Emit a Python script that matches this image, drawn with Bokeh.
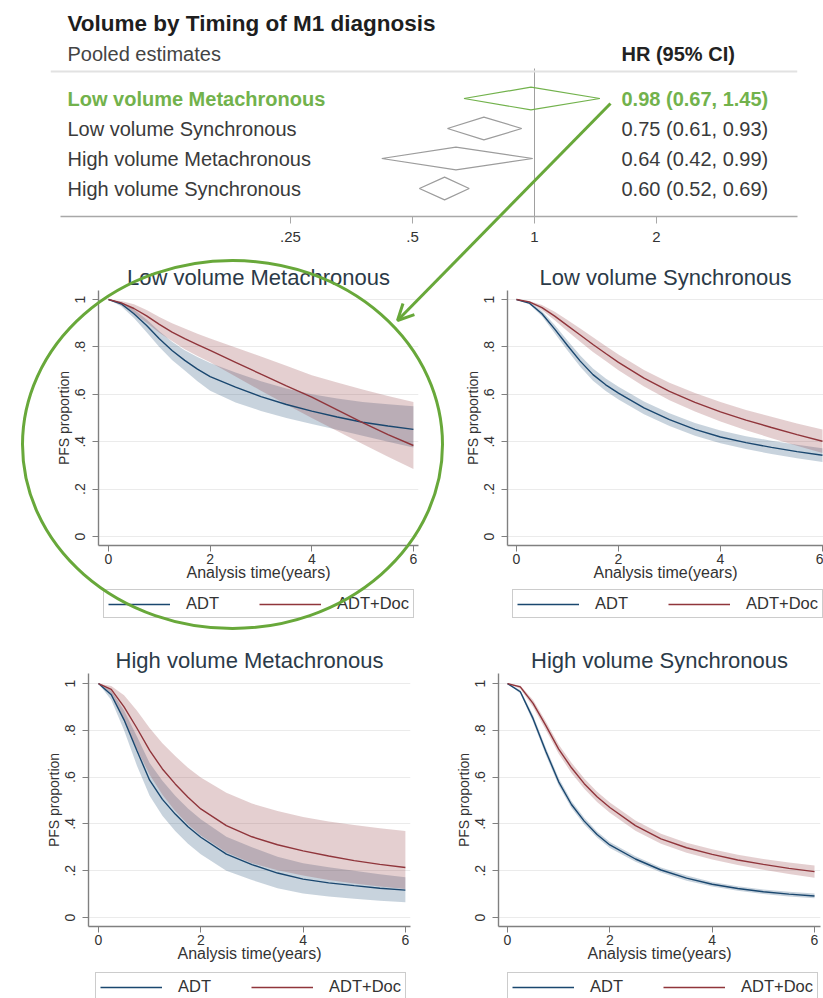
from bokeh.plotting import figure
from bokeh.models import (Range1d, FixedTicker, Legend, LegendItem, Arrow, OpenHead,
                          GridBox, Span, CustomJSTickFormatter)
from bokeh.core.properties import value
from bokeh.embed import file_html
from bokeh.resources import INLINE

# ------------------------------------------------------------------ data
# Forest plot (pooled hazard ratios)
GROUPS = ["Low volume Metachronous", "Low volume Synchronous",
          "High volume Metachronous", "High volume Synchronous"]
HR = [0.98, 0.75, 0.64, 0.60]
HR_LO = [0.67, 0.61, 0.42, 0.52]
HR_HI = [1.45, 0.93, 0.99, 0.69]
HIGHLIGHT = 0
HR_TICKS = [0.25, 0.5, 1, 2]
HR_TICK_LABELS = [".25", ".5", "1", "2"]

# PFS curves with 95% bands
T = [0, 0.25, 0.5, 0.75, 1, 1.25, 1.5, 1.75, 2, 2.5, 3, 3.5, 4, 4.5, 5, 5.5, 6]

LVM_ADT    = [1.000, 0.982, 0.940, 0.890, 0.834, 0.785, 0.743, 0.706, 0.675, 0.630, 0.590, 0.557, 0.529, 0.504, 0.482, 0.466, 0.452]
LVM_ADT_LO = [1.000, 0.972, 0.922, 0.862, 0.800, 0.745, 0.700, 0.655, 0.615, 0.565, 0.530, 0.500, 0.475, 0.450, 0.425, 0.400, 0.375]
LVM_ADT_HI = [1.000, 0.990, 0.958, 0.916, 0.866, 0.822, 0.786, 0.757, 0.732, 0.692, 0.655, 0.625, 0.600, 0.582, 0.568, 0.558, 0.550]
LVM_DOC    = [1.000, 0.986, 0.962, 0.931, 0.895, 0.862, 0.835, 0.810, 0.785, 0.735, 0.685, 0.636, 0.588, 0.534, 0.480, 0.430, 0.384]
LVM_DOC_LO = [1.000, 0.976, 0.942, 0.902, 0.860, 0.825, 0.790, 0.762, 0.735, 0.675, 0.615, 0.557, 0.500, 0.445, 0.390, 0.337, 0.285]
LVM_DOC_HI = [1.000, 0.994, 0.980, 0.956, 0.926, 0.900, 0.878, 0.856, 0.835, 0.797, 0.760, 0.720, 0.680, 0.650, 0.620, 0.593, 0.567]

LVS_ADT    = [1.000, 0.985, 0.940, 0.875, 0.806, 0.740, 0.683, 0.640, 0.605, 0.543, 0.493, 0.452, 0.420, 0.396, 0.376, 0.358, 0.343]
LVS_ADT_LO = [1.000, 0.980, 0.929, 0.858, 0.785, 0.716, 0.657, 0.614, 0.578, 0.516, 0.466, 0.425, 0.393, 0.369, 0.348, 0.330, 0.314]
LVS_ADT_HI = [1.000, 0.990, 0.951, 0.892, 0.827, 0.764, 0.709, 0.667, 0.632, 0.570, 0.520, 0.479, 0.447, 0.423, 0.404, 0.387, 0.372]
LVS_DOC    = [1.000, 0.990, 0.966, 0.930, 0.890, 0.850, 0.810, 0.772, 0.735, 0.668, 0.612, 0.566, 0.526, 0.491, 0.460, 0.430, 0.402]
LVS_DOC_LO = [1.000, 0.986, 0.955, 0.912, 0.866, 0.822, 0.779, 0.740, 0.702, 0.633, 0.575, 0.527, 0.485, 0.448, 0.415, 0.383, 0.352]
LVS_DOC_HI = [1.000, 0.994, 0.977, 0.948, 0.914, 0.878, 0.841, 0.804, 0.768, 0.703, 0.649, 0.605, 0.567, 0.534, 0.505, 0.477, 0.452]

HVM_ADT    = [1.000, 0.952, 0.845, 0.714, 0.587, 0.505, 0.442, 0.388, 0.343, 0.271, 0.226, 0.190, 0.164, 0.148, 0.136, 0.125, 0.117]
HVM_ADT_LO = [1.000, 0.930, 0.800, 0.650, 0.520, 0.435, 0.370, 0.315, 0.270, 0.200, 0.160, 0.125, 0.103, 0.090, 0.080, 0.072, 0.065]
HVM_ADT_HI = [1.000, 0.970, 0.885, 0.775, 0.660, 0.585, 0.520, 0.466, 0.420, 0.345, 0.300, 0.260, 0.232, 0.215, 0.200, 0.185, 0.172]
HVM_DOC    = [1.000, 0.975, 0.900, 0.810, 0.714, 0.635, 0.571, 0.514, 0.464, 0.393, 0.345, 0.311, 0.285, 0.263, 0.243, 0.227, 0.214]
HVM_DOC_LO = [1.000, 0.955, 0.840, 0.720, 0.610, 0.525, 0.455, 0.398, 0.350, 0.278, 0.232, 0.202, 0.180, 0.160, 0.145, 0.133, 0.122]
HVM_DOC_HI = [1.000, 0.990, 0.950, 0.885, 0.810, 0.745, 0.690, 0.640, 0.598, 0.533, 0.487, 0.455, 0.430, 0.410, 0.395, 0.382, 0.370]

HVS_ADT    = [1.000, 0.965, 0.850, 0.710, 0.580, 0.483, 0.412, 0.355, 0.310, 0.250, 0.203, 0.168, 0.142, 0.124, 0.110, 0.100, 0.092]
HVS_ADT_LO = [1.000, 0.958, 0.836, 0.694, 0.564, 0.468, 0.398, 0.342, 0.297, 0.238, 0.192, 0.157, 0.132, 0.114, 0.100, 0.090, 0.082]
HVS_ADT_HI = [1.000, 0.972, 0.864, 0.726, 0.596, 0.498, 0.426, 0.368, 0.323, 0.262, 0.214, 0.179, 0.152, 0.134, 0.120, 0.110, 0.103]
HVS_DOC    = [1.000, 0.986, 0.915, 0.820, 0.720, 0.640, 0.572, 0.516, 0.470, 0.393, 0.336, 0.298, 0.270, 0.246, 0.227, 0.210, 0.196]
HVS_DOC_LO = [1.000, 0.978, 0.900, 0.802, 0.700, 0.618, 0.550, 0.494, 0.448, 0.371, 0.315, 0.277, 0.248, 0.224, 0.204, 0.186, 0.170]
HVS_DOC_HI = [1.000, 0.992, 0.930, 0.838, 0.740, 0.662, 0.594, 0.538, 0.492, 0.415, 0.358, 0.320, 0.292, 0.268, 0.250, 0.235, 0.222]

X_TICKS = [0, 2, 4, 6]
Y_TICKS = [0, 0.2, 0.4, 0.6, 0.8, 1]
Y_TICK_LABELS = ["0", ".2", ".4", ".6", ".8", "1"]
SERIES_NAMES = ["ADT", "ADT+Doc"]

# ------------------------------------------------------------------ styles
FONT = "Liberation Sans"
GREEN_TXT = "#72b24c"
GREEN = "#68a83a"
NAVY = "#1a476f"
MAROON = "#90353b"
AXIS_GREY = "#808080"


def label_formatter(tv, tl):
    return CustomJSTickFormatter(
        args=dict(tv=tv, tl=tl),
        code="const i = tv.findIndex(t => Math.abs(t - tick) < 1e-9); return i >= 0 ? tl[i] : '';")


# ------------------------------------------------------------------ forest plot
def hr_at(px):
    # forest layout: HR = 1 sits 534 px from the left, 122 px per doubling
    return 2 ** ((px - 534) / 122)


n = len(GROUPS)
rows = [n - i for i in range(n)]
fp = figure(width=823, height=255, x_axis_type="log",
            x_range=Range1d(hr_at(50), hr_at(797)), y_range=Range1d(0.067, 6.067),
            output_backend="svg", toolbar_location=None, y_axis_location=None,
            min_border_left=50, min_border_right=26, min_border_top=36, min_border_bottom=39,
            frame_align=False)
fp.outline_line_color = None
fp.grid.grid_line_color = None
fp.title.text = "Volume by Timing of M1 diagnosis"
fp.title.text_font = FONT
fp.title.text_font_size = "22.5px"
fp.title.text_font_style = "bold"
fp.title.text_color = "#1e1e1e"
fp.title.align = "left"
fp.title.offset = 17
fp.title.standoff = 2

ax = fp.xaxis[0]
ax.ticker = FixedTicker(ticks=HR_TICKS)
ax.formatter = label_formatter(HR_TICKS, HR_TICK_LABELS)
ax.bounds = (hr_at(60), hr_at(797))
ax.axis_line_color = "#a8a8a8"
ax.axis_line_width = 1.5
ax.major_tick_line_color = "#a8a8a8"
ax.major_tick_out = 7
ax.major_tick_in = 0
ax.minor_tick_line_color = None
ax.major_label_standoff = 8
ax.major_label_text_font = FONT
ax.major_label_text_font_size = "15px"
ax.major_label_text_color = "#333333"

fp.add_layout(Span(location=n + 0.9, dimension="width", line_color="#e2e2e2", line_width=2))
fp.segment(x0=[1], y0=[0.067], x1=[1], y1=[n + 1.0], line_color="#a0a0a0", line_width=1)

d_xs = [[lo, h, hi, h] for lo, h, hi in zip(HR_LO, HR, HR_HI)]
d_ys = [[r, r + 0.38, r, r - 0.38] for r in rows]
d_col = [GREEN_TXT if i == HIGHLIGHT else "#9c9c9c" for i in range(n)]
fp.patches(xs=d_xs, ys=d_ys, fill_color=None, line_color=d_col, line_width=1.2)

hr_txt = [f"{h:.2f} ({lo:.2f}, {hi:.2f})" for h, lo, hi in zip(HR, HR_LO, HR_HI)]
for i in range(n):
    hl = i == HIGHLIGHT
    col = GREEN_TXT if hl else "#3a3a3a"
    sty = "bold" if hl else "normal"
    fp.text(x=[hr_at(67)], y=[rows[i]], text=[GROUPS[i]], text_baseline="middle",
            text_align="left", text_font=value(FONT), text_font_size="20px",
            text_font_style=sty, text_color=col)
    fp.text(x=[hr_at(621)], y=[rows[i]], text=[hr_txt[i]], text_baseline="middle",
            text_align="left", text_font=value(FONT), text_font_size="20px",
            text_font_style=sty, text_color=col)

fp.text(x=[hr_at(67)], y=[n + 1.47], text=["Pooled estimates"], text_baseline="middle",
        text_align="left", text_font=value(FONT), text_font_size="20px", text_color="#444444")
fp.text(x=[hr_at(621)], y=[n + 1.47], text=["HR (95% CI)"], text_baseline="middle",
        text_align="left", text_font=value(FONT), text_font_size="20px",
        text_font_style="bold", text_color="#222222")


# ------------------------------------------------------------------ KM panels
def km_panel(title, adt, adt_lo, adt_hi, doc, doc_lo, doc_hi, g):
    p = figure(width=g["w"], height=g["h"], x_range=Range1d(*g["x"]), y_range=Range1d(*g["y"]),
               output_backend="svg", toolbar_location=None,
               min_border_left=g["l"], min_border_right=g["r"],
               min_border_top=g["t"], min_border_bottom=g["b"], frame_align=False)
    p.outline_line_color = None
    p.title.text = title
    p.title.text_font = FONT
    p.title.text_font_size = "22px"
    p.title.text_font_style = "normal"
    p.title.text_color = "#2b3a48"
    p.title.align = "center"
    p.title.standoff = 2

    p.xgrid.grid_line_color = None
    p.ygrid.grid_line_color = "#ebebeb"

    for a in (p.xaxis[0], p.yaxis[0]):
        a.axis_line_color = AXIS_GREY
        a.axis_line_width = 1.4
        a.major_tick_line_color = AXIS_GREY
        a.major_tick_out = 6
        a.major_tick_in = 0
        a.minor_tick_line_color = None
        a.major_label_text_font = FONT
        a.major_label_text_font_size = "14px"
        a.major_label_text_color = "#333333"
        a.axis_label_text_font = FONT
        a.axis_label_text_font_style = "normal"
        a.axis_label_text_color = "#333333"

    xa = p.xaxis[0]
    xa.ticker = FixedTicker(ticks=X_TICKS)
    xa.major_label_standoff = 2
    xa.axis_label = "Analysis time(years)"
    xa.axis_label_text_font_size = "16px"
    xa.axis_label_standoff = -3

    ya = p.yaxis[0]
    ya.ticker = FixedTicker(ticks=Y_TICKS)
    ya.formatter = label_formatter(Y_TICKS, Y_TICK_LABELS)
    ya.major_label_orientation = "vertical"
    ya.major_label_standoff = 7
    ya.axis_label = "PFS proportion"
    ya.axis_label_text_font_size = "14px"
    ya.axis_label_standoff = 1

    p.varea(x=T, y1=adt_lo, y2=adt_hi, fill_color=NAVY, fill_alpha=0.24)
    p.varea(x=T, y1=doc_lo, y2=doc_hi, fill_color=MAROON, fill_alpha=0.24)
    p.line(T, adt, line_color=NAVY, line_width=1.4)
    p.line(T, doc, line_color=MAROON, line_width=1.4)
    return p


def legend_strip(width, height, loc):
    # key strip under a panel; its two key lines lie outside the strip's visible range
    q = figure(width=width, height=height, x_range=Range1d(0, 1), y_range=Range1d(0, 1),
               output_backend="svg", toolbar_location=None, x_axis_location=None,
               y_axis_location=None, min_border=0, frame_align=False)
    q.grid.grid_line_color = None
    q.outline_line_color = None
    r1 = q.line(x=[-2, -1], y=[-2, -2], line_color=NAVY, line_width=1.4)
    r2 = q.line(x=[-2, -1], y=[-3, -3], line_color=MAROON, line_width=1.4)
    leg = Legend(items=[LegendItem(label=SERIES_NAMES[0], renderers=[r1]),
                        LegendItem(label=SERIES_NAMES[1], renderers=[r2])],
                 orientation="horizontal", location=loc)
    leg.label_text_font = FONT
    leg.label_text_font_size = "16.5px"
    leg.label_text_color = "#333333"
    leg.glyph_width = 62
    leg.glyph_height = 16
    leg.label_height = 16
    leg.label_standoff = 16
    leg.spacing = 40
    leg.padding = 4
    leg.margin = 0
    leg.border_line_color = "#9a9a9a"
    leg.border_line_width = 1.5
    leg.background_fill_color = "white"
    leg.background_fill_alpha = 1
    q.add_layout(leg, "center")
    return q


G1 = dict(w=421, h=333, l=98, r=3, t=35, b=43, x=(-0.197, 6.1), y=(-0.038, 1.038))
G2 = dict(w=402, h=333, l=86, r=0, t=35, b=43, x=(-0.176, 6.02), y=(-0.038, 1.038))
G3 = dict(w=421, h=338, l=88, r=11, t=45, b=40, x=(-0.195, 6.1), y=(-0.0385, 1.043))
G4 = dict(w=402, h=338, l=77, r=3, t=45, b=40, x=(-0.176, 6.117), y=(-0.0385, 1.043))

km1 = km_panel(GROUPS[0], LVM_ADT, LVM_ADT_LO, LVM_ADT_HI, LVM_DOC, LVM_DOC_LO, LVM_DOC_HI, G1)
km2 = km_panel(GROUPS[1], LVS_ADT, LVS_ADT_LO, LVS_ADT_HI, LVS_DOC, LVS_DOC_LO, LVS_DOC_HI, G2)
km3 = km_panel(GROUPS[2], HVM_ADT, HVM_ADT_LO, HVM_ADT_HI, HVM_DOC, HVM_DOC_LO, HVM_DOC_HI, G3)
km4 = km_panel(GROUPS[3], HVS_ADT, HVS_ADT_LO, HVS_ADT_HI, HVS_DOC, HVS_DOC_LO, HVS_DOC_HI, G4)

lg1 = legend_strip(421, 40, (103, 10))
lg2 = legend_strip(402, 40, (91, 10))
lg3 = legend_strip(421, 32, (95, -3))
lg4 = legend_strip(402, 32, (86, -3))

# ------------------------------------------------------------------ call-out overlay (page pixels)
ov = figure(width=823, height=998, x_range=Range1d(0, 823), y_range=Range1d(998, 0),
            output_backend="svg", toolbar_location=None,
            x_axis_location=None, y_axis_location=None, min_border=0, frame_align=False)
ov.grid.grid_line_color = None
ov.outline_line_color = None
ov.background_fill_color = None
ov.border_fill_color = None
ov.ellipse(x=[232], y=[444], width=[420], height=[368], fill_color=None,
           line_color=GREEN, line_width=3)
ov.add_layout(Arrow(end=OpenHead(size=16, line_color=GREEN, line_width=3),
                    x_start=610, y_start=103, x_end=397, y_end=320,
                    line_color=GREEN, line_width=3))

layout = GridBox(children=[(fp, 0, 0, 1, 2),
                           (km1, 1, 0), (km2, 1, 1),
                           (lg1, 2, 0), (lg2, 2, 1),
                           (km3, 3, 0), (km4, 3, 1),
                           (lg3, 4, 0), (lg4, 4, 1),
                           (ov, 0, 0, 5, 2)])

open("out.html", "w").write(file_html(layout, INLINE))
